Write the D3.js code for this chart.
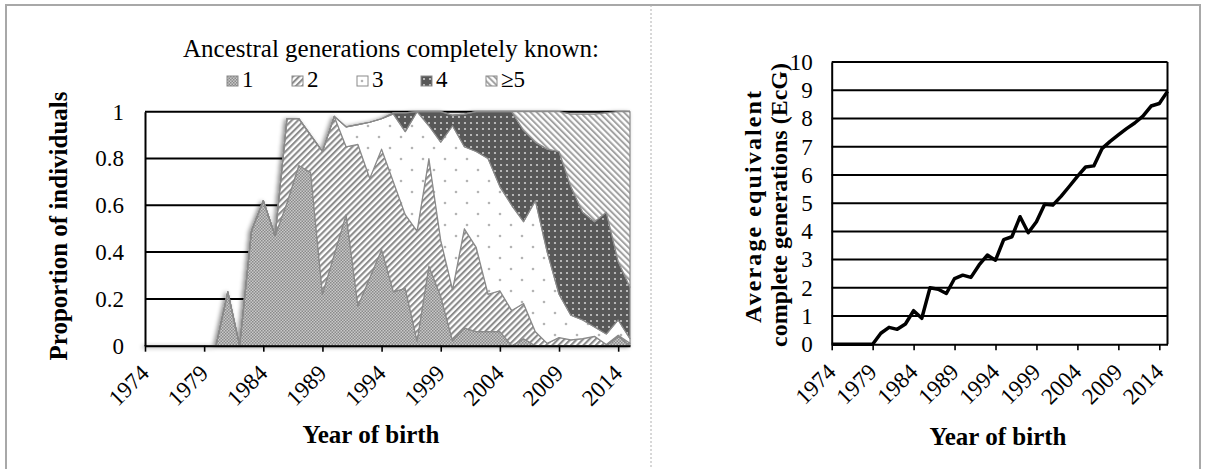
<!DOCTYPE html>
<html>
<head>
<meta charset="utf-8">
<script src="https://cdn.jsdelivr.net/npm/d3@7/dist/d3.min.js"></script>
<style>
  body { margin: 0; background: #fff; }
  svg text { font-family: "Liberation Serif", "Times New Roman", Times, "DejaVu Serif", serif !important; fill: #000; }
</style>
</head>
<body>
<div id="my_dataviz"></div>
<script>
// categories
var years = [1974, 1975, 1976, 1977, 1978, 1979, 1980, 1981, 1982, 1983, 1984, 1985, 1986, 1987,
  1988, 1989, 1990, 1991, 1992, 1993, 1994, 1995, 1996, 1997, 1998, 1999, 2000, 2001,
  2002, 2003, 2004, 2005, 2006, 2007, 2008, 2009, 2010, 2011, 2012, 2013, 2014, 2015];
var xTickYears = [1974, 1979, 1984, 1989, 1994, 1999, 2004, 2009, 2014];
var propTicks = [0, 0.2, 0.4, 0.6, 0.8, 1];
var ecgTicks = [0, 1, 2, 3, 4, 5, 6, 7, 8, 9, 10];

// proportion of individuals per number of completely known generations
var gen1 = [0, 0, 0, 0, 0, 0, 0, 0.23, 0, 0.49, 0.62, 0.47, 0.61, 0.77, 0.74, 0.22, 0.39, 0.56,
  0.17, 0.29, 0.41, 0.23, 0.245, 0.02, 0.34, 0.21, 0.02, 0.075, 0.06, 0.06, 0.06, 0, 0.03,
  0, 0, 0, 0, 0, 0, 0, 0.04, 0];
var gen2 = [0, 0, 0, 0, 0, 0, 0, 0, 0, 0, 0, 0, 0.36, 0.20, 0.16, 0.61, 0.59, 0.29, 0.69, 0.425,
  0.43, 0.47, 0.315, 0.47, 0.46, 0.24, 0.22, 0.425, 0.36, 0.16, 0.175, 0.15, 0.15, 0.06, 0.01,
  0.035, 0.025, 0.03, 0.04, 0.005, 0.005, 0.01];
var gen3 = [0, 0, 0, 0, 0, 0, 0, 0, 0, 0, 0, 0, 0, 0, 0, 0, 0, 0.085, 0.085, 0.24, 0.13, 0.29,
  0.355, 0.51, 0.14, 0.42, 0.70, 0.35, 0.41, 0.58, 0.445, 0.45, 0.35, 0.56, 0.39, 0.185, 0.105,
  0.08, 0.04, 0.045, 0.065, 0.02];
var gen4 = [0, 0, 0, 0, 0, 0, 0, 0, 0, 0, 0, 0, 0, 0, 0, 0, 0, 0, 0, 0, 0, 0.005, 0.08, 0, 0.06,
  0.13, 0.045, 0.14, 0.17, 0.20, 0.32, 0.40, 0.39, 0.25, 0.44, 0.61, 0.55, 0.46, 0.45, 0.52,
  0.25, 0.22];
var gen5 = [0, 0, 0, 0, 0, 0, 0, 0, 0, 0, 0, 0, 0, 0, 0, 0, 0, 0, 0, 0, 0, 0, 0, 0, 0, 0, 0, 0,
  0, 0, 0, 0, 0.08, 0.13, 0.16, 0.17, 0.31, 0.42, 0.46, 0.425, 0.64, 0.75];
var genLabels = ["1", "2", "3", "4", "\u22655"];

// average equivalent complete generations
var ecg = [0, 0, 0, 0, 0, 0, 0.39, 0.60, 0.53, 0.72, 1.19, 0.92, 2.0, 1.95, 1.80, 2.33, 2.45, 2.37,
  2.81, 3.16, 2.98, 3.71, 3.81, 4.52, 3.95, 4.34, 4.96, 4.93, 5.24, 5.59, 5.95, 6.28, 6.32,
  6.93, 7.19, 7.42, 7.64, 7.84, 8.08, 8.44, 8.53, 8.96];

var FONT = "'Liberation Serif', 'Times New Roman', Times, 'DejaVu Serif', serif";
var W = 1206, H = 469;
var svg = d3.select("#my_dataviz")
  .append("svg")
  .attr("width", W)
  .attr("height", H)
  .attr("font-family", FONT);

// patterns + shadow
var defs = svg.append("defs");

var p1 = defs.append("pattern").attr("id", "pat1").attr("patternUnits", "userSpaceOnUse")
  .attr("width", 3).attr("height", 3);
p1.append("rect").attr("width", 3).attr("height", 3).attr("fill", "#c9c9c9");
p1.append("rect").attr("width", 1.5).attr("height", 1.5).attr("fill", "#8a8a8a");
p1.append("rect").attr("x", 1.5).attr("y", 1.5).attr("width", 1.5).attr("height", 1.5).attr("fill", "#8a8a8a");

var p2 = defs.append("pattern").attr("id", "pat2").attr("patternUnits", "userSpaceOnUse")
  .attr("width", 4.4).attr("height", 10).attr("patternTransform", "rotate(45)");
p2.append("rect").attr("width", 4.4).attr("height", 10).attr("fill", "#fff");
p2.append("rect").attr("width", 2.1).attr("height", 10).attr("fill", "#8c8c8c");

var p3 = defs.append("pattern").attr("id", "pat3").attr("patternUnits", "userSpaceOnUse")
  .attr("width", 22).attr("height", 22);
p3.append("rect").attr("width", 22).attr("height", 22).attr("fill", "#fff");
p3.append("circle").attr("cx", 5).attr("cy", 5).attr("r", 1.3).attr("fill", "#b4b4b4");
p3.append("circle").attr("cx", 16).attr("cy", 16).attr("r", 1.3).attr("fill", "#b4b4b4");

var p4 = defs.append("pattern").attr("id", "pat4").attr("patternUnits", "userSpaceOnUse")
  .attr("width", 6).attr("height", 6);
p4.append("rect").attr("width", 6).attr("height", 6).attr("fill", "#585858");
p4.append("circle").attr("cx", 3).attr("cy", 3).attr("r", 1.1).attr("fill", "#cfcfcf");

var p5 = defs.append("pattern").attr("id", "pat5").attr("patternUnits", "userSpaceOnUse")
  .attr("width", 4.4).attr("height", 10).attr("patternTransform", "rotate(-45)");
p5.append("rect").attr("width", 4.4).attr("height", 10).attr("fill", "#fff");
p5.append("rect").attr("width", 2).attr("height", 10).attr("fill", "#a2a2a2");

var shadow = defs.append("filter").attr("id", "shadow")
  .attr("x", "-10%").attr("y", "-10%").attr("width", "120%").attr("height", "120%");
shadow.append("feDropShadow").attr("dx", -2).attr("dy", 1).attr("stdDeviation", 2.2)
  .attr("flood-color", "#000").attr("flood-opacity", 0.45);

var patIds = ["pat1", "pat2", "pat3", "pat4", "pat5"];

// frame of the figure
svg.append("path").attr("d", "M6,469V5H1200V469").attr("fill", "none")
  .attr("stroke", "#a8a8a8").attr("stroke-width", 2);
svg.append("line").attr("x1", 651).attr("x2", 651).attr("y1", 5).attr("y2", 469)
  .attr("stroke", "#b0b0b0").attr("stroke-width", 1).attr("stroke-dasharray", "2,2");

// ---------- left chart: stacked areas ----------
var x1 = d3.scalePoint().domain(years).range([145, 630]);
var y1 = d3.scaleLinear().domain([0, 1]).range([345.7, 111.7]);

var rows = years.map(function (yr, i) {
  return { year: yr, g1: gen1[i], g2: gen2[i], g3: gen3[i], g4: gen4[i], g5: gen5[i] };
});
var stacked = d3.stack().keys(["g1", "g2", "g3", "g4", "g5"])(rows);

// gridlines
svg.append("g").selectAll("line")
  .data(propTicks.slice(1))
  .enter().append("line")
  .attr("x1", 145).attr("x2", 630)
  .attr("y1", function (d) { return y1(d); })
  .attr("y2", function (d) { return y1(d); })
  .attr("stroke", "#000").attr("stroke-width", 2);

var area = d3.area()
  .x(function (d) { return x1(d.data.year); })
  .y0(function (d) { return y1(d[0]); })
  .y1(function (d) { return y1(d[1]); });

svg.append("g").attr("filter", "url(#shadow)")
  .selectAll("path")
  .data(stacked)
  .enter().append("path")
  .attr("d", area)
  .attr("fill", function (d, i) { return "url(#" + patIds[i] + ")"; })
  .attr("stroke", "#8a8a8a")
  .attr("stroke-width", 1.2)
  .attr("stroke-linejoin", "round");

// axes
var xAxisL = svg.append("g")
  .attr("transform", "translate(0," + y1(0) + ")")
  .call(d3.axisBottom(x1).tickValues(xTickYears).tickSize(6).tickSizeOuter(0));
var yAxisL = svg.append("g")
  .attr("transform", "translate(145,0)")
  .call(d3.axisLeft(y1).tickValues(propTicks).tickSize(0).tickPadding(21)
    .tickFormat(function (d) { return String(d); }));

// ---------- right chart: line ----------
var x2 = d3.scalePoint().domain(years).range([831.7, 1167.5]);
var y2 = d3.scaleLinear().domain([0, 10]).range([344.3, 62]);

svg.append("g").selectAll("line")
  .data(ecgTicks.slice(1))
  .enter().append("line")
  .attr("x1", 831.7).attr("x2", 1167.5)
  .attr("y1", function (d) { return y2(d); })
  .attr("y2", function (d) { return y2(d); })
  .attr("stroke", "#000").attr("stroke-width", 2);
svg.append("line")
  .attr("x1", 1167.5).attr("x2", 1167.5).attr("y1", y2(10)).attr("y2", y2(0))
  .attr("stroke", "#000").attr("stroke-width", 2);

var line = d3.line()
  .x(function (d, i) { return x2(years[i]); })
  .y(function (d) { return y2(d); });

svg.append("path")
  .datum(ecg)
  .attr("d", line)
  .attr("fill", "none")
  .attr("stroke", "#000")
  .attr("stroke-width", 3.5)
  .attr("stroke-linejoin", "round");

var xAxisR = svg.append("g")
  .attr("transform", "translate(0," + y2(0) + ")")
  .call(d3.axisBottom(x2).tickValues(xTickYears).tickSize(6).tickSizeOuter(0));
var yAxisR = svg.append("g")
  .attr("transform", "translate(831.7,0)")
  .call(d3.axisLeft(y2).tickValues(ecgTicks).tickSize(0).tickPadding(19));

// axis styling
[xAxisL, yAxisL, xAxisR, yAxisR].forEach(function (ax) {
  ax.attr("font-family", FONT).attr("font-size", 23);
  ax.select(".domain").attr("stroke", "#000").attr("stroke-width", 2);
  ax.selectAll(".tick line").attr("stroke", "#000").attr("stroke-width", 1.6);
  ax.selectAll("text").attr("fill", "#000");
});
[xAxisL, xAxisR].forEach(function (ax) {
  ax.selectAll(".tick text")
    .attr("x", 0).attr("y", 0).attr("dy", 0)
    .attr("text-anchor", "end")
    .attr("transform", "translate(5,29) rotate(-45)");
});

// axis titles
svg.append("text")
  .attr("transform", "translate(67,226) rotate(-90)")
  .attr("text-anchor", "middle").attr("font-weight", "bold").attr("font-size", 25)
  .text("Proportion of individuals");
svg.append("text")
  .attr("x", 371).attr("y", 443)
  .attr("text-anchor", "middle").attr("font-weight", "bold").attr("font-size", 25)
  .text("Year of birth");
svg.append("text")
  .attr("transform", "translate(761,207) rotate(-90)")
  .attr("text-anchor", "middle").attr("font-weight", "bold").attr("font-size", 24)
  .attr("textLength", 232).attr("lengthAdjust", "spacing")
  .text("Average equivalent");
svg.append("text")
  .attr("transform", "translate(787,205) rotate(-90)")
  .attr("text-anchor", "middle").attr("font-weight", "bold").attr("font-size", 24)
  .text("complete generations (EcG)");
svg.append("text")
  .attr("x", 998).attr("y", 445)
  .attr("text-anchor", "middle").attr("font-weight", "bold").attr("font-size", 25)
  .text("Year of birth");

// legend
svg.append("text")
  .attr("x", 391).attr("y", 57)
  .attr("text-anchor", "middle").attr("font-size", 25)
  .text("Ancestral generations completely known:");

var legendX = [227, 292, 357, 421, 486];
var leg = svg.append("g").selectAll("g")
  .data(genLabels)
  .enter().append("g")
  .attr("transform", function (d, i) { return "translate(" + legendX[i] + ",76)"; });
leg.append("rect")
  .attr("width", 11).attr("height", 10)
  .attr("fill", function (d, i) { return "url(#" + patIds[i] + ")"; })
  .attr("stroke", "#8a8a8a").attr("stroke-width", 1);
leg.append("text")
  .attr("x", 15).attr("y", 11)
  .attr("font-size", 23)
  .text(function (d) { return d; });
</script>
</body>
</html>
